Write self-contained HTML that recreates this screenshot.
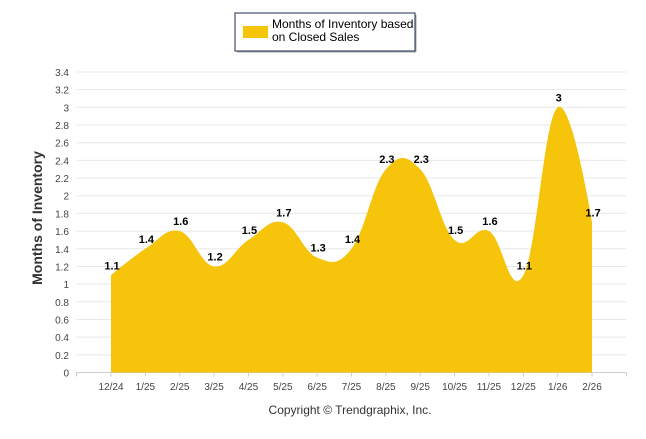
<!DOCTYPE html>
<html><head><meta charset="utf-8"><style>
body{margin:0;background:#fff;}
svg text{font-family:"Liberation Sans",sans-serif;}
</style></head><body>
<svg id="c" width="646" height="434" viewBox="0 0 646 434" xmlns="http://www.w3.org/2000/svg">
<rect x="235" y="13" width="180" height="38" fill="#fff" stroke="#1f2d4d" stroke-width="1"/>
<line x1="237" y1="52" x2="416" y2="52" stroke="#aaa" stroke-width="1"/>
<line x1="416" y1="15" x2="416" y2="52" stroke="#aaa" stroke-width="1"/>
<rect x="243" y="26" width="25" height="12" fill="#f6c40a"/>
<text x="272" y="28" font-size="12" fill="#000"><tspan x="272" y="28">Months of Inventory based</tspan><tspan x="272" y="41">on Closed Sales</tspan></text>
<g id="grid"></g>
<path id="area" fill="#f6c40a"/>
<g id="labels"></g>
<text x="42" y="218" font-size="14" font-weight="bold" fill="#333" text-anchor="middle" transform="rotate(-90 42 218)">Months of Inventory</text>
<text x="350" y="414" font-size="12" fill="#333" text-anchor="middle">Copyright © Trendgraphix, Inc.</text>
</svg>
<script>
const categories=["12/24","1/25","2/25","3/25","4/25","5/25","6/25","7/25","8/25","9/25","10/25","11/25","12/25","1/26","2/26"];
const values=[1.1,1.4,1.6,1.2,1.5,1.7,1.3,1.4,2.3,2.3,1.5,1.6,1.1,3,1.7];
const yTicks=[0,0.2,0.4,0.6,0.8,1,1.2,1.4,1.6,1.8,2,2.2,2.4,2.6,2.8,3,3.2,3.4];
const NS="http://www.w3.org/2000/svg";
const x0=111,step=34.36,yb=372.5,yt=72,ymax=3.4;
const X=i=>x0+i*step;
const Y=v=>yb-(v/ymax)*(yb-yt);
const grid=document.getElementById('grid');
const L=X(-1),R=X(categories.length);
yTicks.forEach(t=>{
  const l=document.createElementNS(NS,'line');
  l.setAttribute('x1',L);l.setAttribute('x2',R);l.setAttribute('y1',Y(t));l.setAttribute('y2',Y(t));
  l.setAttribute('stroke',t===0?'#ccc':'#e8e8e8');l.setAttribute('stroke-width','1');
  
  
  grid.appendChild(l);
  const tx=document.createElementNS(NS,'text');
  tx.setAttribute('x',69);tx.setAttribute('y',Y(t)+4);tx.setAttribute('font-size','10');tx.setAttribute('fill','#444');tx.setAttribute('text-anchor','end');
  tx.textContent=String(t);
  
  
  grid.appendChild(tx);
});
for(let i=-1;i<=categories.length;i++){
  const m=document.createElementNS(NS,'line');
  m.setAttribute('x1',X(i));m.setAttribute('x2',X(i));m.setAttribute('y1',yb);m.setAttribute('y2',yb+4);
  m.setAttribute('stroke','#ccc');
  grid.appendChild(m);
}
categories.forEach((c,i)=>{
  const tx=document.createElementNS(NS,'text');
  tx.setAttribute('x',X(i));tx.setAttribute('y',390);tx.setAttribute('font-size','10');tx.setAttribute('fill','#444');tx.setAttribute('text-anchor','middle');
  tx.textContent=c;
  
  
  grid.appendChild(tx);
});
const pts=values.map((v,i)=>[X(i),Y(v)]);
function ctrl(i){
  const s=1.5,d=s+1,p=pts[i],a=pts[i-1],b=pts[i+1];
  if(!a||!b)return null;
  let lx=(s*p[0]+a[0])/d,ly=(s*p[1]+a[1])/d,rx=(s*p[0]+b[0])/d,ry=(s*p[1]+b[1])/d;
  const corr=((ry-ly)*(rx-p[0]))/(rx-lx)+p[1]-ry;ly+=corr;ry+=corr;
  return {l:[lx,ly],r:[rx,ry]};
}
let d=`M${pts[0][0]},${yb} L${pts[0][0]},${pts[0][1]}`;
for(let i=1;i<pts.length;i++){
  const c0=ctrl(i-1),c1=ctrl(i);
  const p0=c0?c0.r:pts[i-1],p1=c1?c1.l:pts[i];
  d+=` C${p0[0]},${p0[1]} ${p1[0]},${p1[1]} ${pts[i][0]},${pts[i][1]}`;
}
d+=` L${pts[pts.length-1][0]},${yb} Z`;
document.getElementById('area').setAttribute('d',d);
const lg=document.getElementById('labels');
values.forEach((v,i)=>{
  const tx=document.createElementNS(NS,'text');
  tx.setAttribute('x',X(i)+1);tx.setAttribute('y',Y(v)-6);tx.setAttribute('font-size','11');tx.setAttribute('font-weight','bold');tx.setAttribute('fill','#000');tx.setAttribute('text-anchor','middle');
  tx.textContent=String(v);
  
  
  lg.appendChild(tx);
});
</script>
</body></html>
